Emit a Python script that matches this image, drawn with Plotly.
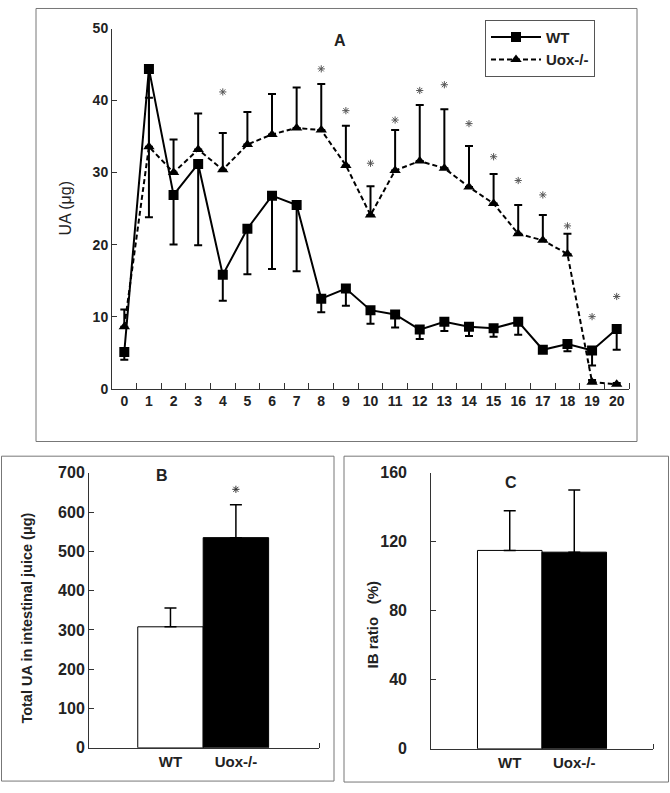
import plotly.graph_objects as go

# ---------------- data ----------------
days = list(range(21))
day_labels = [str(d) for d in days]

wt_ua = [5.1, 44.4, 26.9, 31.2, 15.8, 22.2, 26.8, 25.5, 12.5, 13.9, 10.9,
         10.3, 8.2, 9.3, 8.6, 8.4, 9.3, 5.4, 6.2, 5.3, 8.3]
wt_err_minus = [1.1, 20.6, 6.9, 11.3, 3.6, 6.3, 10.2, 9.2, 1.9, 2.4, 1.9,
                1.8, 1.3, 1.3, 1.3, 1.2, 1.8, 0.4, 1.0, 2.1, 2.9]

uox_ua = [8.6, 33.6, 30.0, 33.2, 30.4, 33.9, 35.3, 36.2, 35.9, 31.0, 24.1,
          30.3, 31.6, 30.6, 28.0, 25.7, 21.5, 20.6, 18.7, 0.9, 0.6]
uox_err_plus = [2.4, 6.8, 4.6, 5.0, 5.1, 4.5, 5.6, 5.6, 6.4, 5.5, 4.0,
                5.6, 7.8, 8.2, 5.7, 4.1, 4.0, 3.5, 2.8, 0.3, 0.2]

star_days = [4, 8, 9, 10, 11, 12, 13, 14, 15, 16, 17, 18, 19, 20]
star_y = [41.2, 44.4, 38.6, 31.3, 37.3, 41.4, 42.2, 36.8, 32.2, 28.9, 26.9,
          22.6, 10.0, 12.8]

groups = ["WT", "Uox-/-"]
group_pos = [0, 1]
total_ua = [308, 535]
total_ua_err = [48, 84]
total_star_y = [658]

ib_ratio = [115, 114]
ib_ratio_err = [23, 36]

bar_colors = ["white", "black"]

FONT = "Liberation Sans, Arial, sans-serif"
W, H = 670, 793


def px_x(p):
    return p / W


def px_y(p):
    return 1 - p / H


fig = go.Figure()

# ---------------- Panel A ----------------
fig.add_trace(go.Scatter(
    x=days, y=wt_ua, name="WT", mode="lines+markers",
    line=dict(color="black", width=2),
    marker=dict(symbol="square", size=10, color="black"),
    error_y=dict(type="data", symmetric=False, array=[0] * len(days),
                 arrayminus=wt_err_minus, color="black", thickness=2, width=4),
    xaxis="x", yaxis="y",
))
fig.add_trace(go.Scatter(
    x=days, y=uox_ua, name="Uox-/-", mode="lines+markers",
    line=dict(color="black", width=2, dash="5px,3px"),
    marker=dict(symbol="triangle-up", size=10, color="black"),
    error_y=dict(type="data", symmetric=False, array=uox_err_plus,
                 arrayminus=[0] * len(days), color="black", thickness=2, width=4),
    xaxis="x", yaxis="y",
))
fig.add_trace(go.Scatter(
    x=star_days, y=star_y, mode="markers", showlegend=False,
    marker=dict(symbol="asterisk-open", size=6, color="#555",
                line=dict(color="#555", width=1)),
    xaxis="x", yaxis="y",
))

# ---------------- Panel B ----------------
fig.add_trace(go.Bar(
    x=group_pos, y=total_ua, width=1, showlegend=False,
    marker=dict(color=bar_colors, line=dict(color="black", width=1)),
    error_y=dict(type="data", symmetric=False, array=total_ua_err,
                 arrayminus=[0, 0], color="black", thickness=1.5, width=6),
    xaxis="x2", yaxis="y2",
))
fig.add_trace(go.Scatter(
    x=[group_pos[1]], y=total_star_y, mode="markers", showlegend=False,
    marker=dict(symbol="asterisk-open", size=6, color="#333",
                line=dict(color="#333", width=1)),
    xaxis="x2", yaxis="y2",
))

# ---------------- Panel C ----------------
fig.add_trace(go.Bar(
    x=group_pos, y=ib_ratio, width=1, showlegend=False,
    marker=dict(color=bar_colors, line=dict(color="black", width=1)),
    error_y=dict(type="data", symmetric=False, array=ib_ratio_err,
                 arrayminus=[0, 0], color="black", thickness=1.5, width=6),
    xaxis="x3", yaxis="y3",
))
# invisible companion trace so the offset label axis of panel C is drawn
fig.add_trace(go.Scatter(
    x=group_pos, y=ib_ratio, mode="markers", showlegend=False,
    marker=dict(opacity=0), hoverinfo="skip",
    xaxis="x3", yaxis="y4",
))

tickA = dict(family=FONT, size=14, color="#222", weight="bold")
tickBC = dict(family=FONT, size=16, color="#222", weight="bold")
xlabBC = dict(family=FONT, size=15, color="#222", weight="bold")
axis_common = dict(showline=True, linecolor="#333", linewidth=1, showgrid=False,
                   zeroline=False)


def ann(text, x, y, size, bold=True, angle=0):
    return dict(text=text, x=px_x(x), y=px_y(y), xref="paper", yref="paper",
                xanchor="center", yanchor="middle", textangle=angle,
                showarrow=False,
                font=dict(family=FONT, size=size, color="#222",
                          weight="bold" if bold else "normal"))


fig.update_layout(
    width=W, height=H, margin=dict(l=0, r=0, t=0, b=0),
    paper_bgcolor="white", plot_bgcolor="white",
    font=dict(family=FONT, color="#222"),
    xaxis=dict(domain=[px_x(112), px_x(629)], range=[-0.5, 20.5], anchor="y",
               tickmode="array", tickvals=days, ticktext=day_labels, ticks="",
               tickfont=tickA,
               minor=dict(tickmode="array", tickvals=[d + 0.5 for d in days],
                          ticks="inside", ticklen=6, tickcolor="#333"),
               **axis_common),
    yaxis=dict(domain=[px_y(389), px_y(21)], range=[0, 50], anchor="x",
               tickvals=[0, 10, 20, 30, 40, 50], ticks="inside", ticklen=5,
               tickcolor="#333", tickfont=tickA,
               **axis_common),
    xaxis2=dict(domain=[px_x(89), px_x(319)], range=[-1.245, 2.27], anchor="y2",
                tickmode="array", tickvals=group_pos, ticktext=groups, ticks="",
                tickfont=xlabBC,
                minor=dict(tickmode="array", tickvals=[2.27], ticks="inside",
                           ticklen=5, tickcolor="#333"),
                **axis_common),
    yaxis2=dict(domain=[px_y(756), px_y(475)], range=[0, 700], anchor="x2",
                tickvals=[0, 100, 200, 300, 400, 500, 600, 700], ticks="inside",
                ticklen=5, tickcolor="#333", tickfont=tickBC,
                **axis_common),
    xaxis3=dict(domain=[px_x(431), px_x(653)], range=[-1.22, 2.22], anchor="y3",
                tickmode="array", tickvals=group_pos, ticktext=groups, ticks="",
                tickfont=xlabBC,
                minor=dict(tickmode="array", tickvals=[2.22], ticks="inside",
                           ticklen=5, tickcolor="#333"),
                **axis_common),
    yaxis3=dict(domain=[px_y(757), px_y(475)], range=[0, 160], anchor="x3",
                tickvals=[0, 40, 80, 120, 160], ticks="inside", ticklen=5,
                tickcolor="#333", showticklabels=False,
                **axis_common),
    yaxis4=dict(overlaying="y3", anchor="free", position=px_x(407), side="left",
                range=[0, 160], tickvals=[0, 40, 80, 120, 160], ticks="",
                showline=False, showgrid=False, zeroline=False, tickfont=tickBC),
    legend=dict(x=px_x(485), y=px_y(12), xanchor="left", yanchor="top",
                bordercolor="#555", borderwidth=1, bgcolor="white",
                itemwidth=50, tracegroupgap=0,
                font=dict(family=FONT, size=15, color="#222", weight="bold")),
    shapes=[
        dict(type="rect", xref="paper", yref="paper",
             x0=px_x(36), x1=px_x(637), y0=px_y(443), y1=px_y(0.5),
             line=dict(color="#777", width=1)),
        dict(type="rect", xref="paper", yref="paper",
             x0=px_x(1.5), x1=px_x(334), y0=px_y(790), y1=px_y(458),
             line=dict(color="#777", width=1)),
        dict(type="rect", xref="paper", yref="paper",
             x0=px_x(344), x1=px_x(668.5), y0=px_y(791), y1=px_y(458),
             line=dict(color="#777", width=1)),
    ],
    annotations=[
        ann("A", 340, 33, 16),
        ann("UA (μg)", 66, 205, 16, bold=False, angle=-90),
        ann("B", 162, 478, 16),
        ann("Total UA in intestinal juice (μg)", 27, 624, 14.5, angle=-90),
        ann("C", 511, 485, 16),
        ann("IB ratio   (%)", 372, 630, 15, angle=-90),
    ],
)

fig.write_html("out.html",
               config={"displayModeBar": False},
               post_script="document.body.style.margin='0';"
                           "document.body.style.overflow='hidden';")
